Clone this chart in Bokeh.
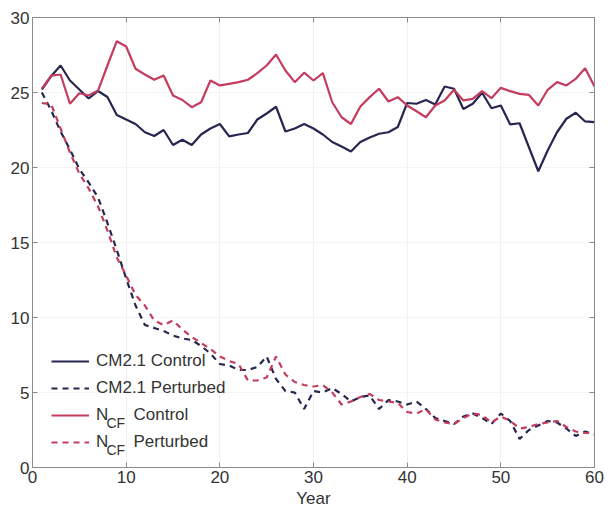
from bokeh.plotting import figure
from bokeh.models import ColumnDataSource, Legend, LegendItem, LinearAxis, Range1d, FixedTicker, Label
from bokeh.embed import file_html
from bokeh.resources import INLINE

years = list(range(1, 61))

cm21_control = [25.2, 26.1, 26.8, 25.8, 25.2, 24.6, 25.1, 24.7, 23.5, 23.2,
                22.9, 22.35, 22.1, 22.5, 21.5, 21.85, 21.5, 22.2, 22.6, 22.9,
                22.07, 22.2, 22.3, 23.2, 23.6, 24.05, 22.4, 22.6, 22.9, 22.6,
                22.2, 21.7, 21.4, 21.07, 21.7, 22.0, 22.25, 22.35, 22.7, 24.3,
                24.25, 24.5, 24.2, 25.4, 25.25, 23.9, 24.25, 24.98, 23.95, 24.13,
                22.87, 22.95, 21.35, 19.75, 21.13, 22.35, 23.25, 23.65, 23.07, 23.02]

ncf_control = [25.25, 26.13, 26.2, 24.25, 24.95, 24.8, 25.13, 26.8, 28.42, 28.07,
               26.58, 26.2, 25.85, 26.13, 24.8, 24.5, 24.02, 24.35, 25.8, 25.47,
               25.58, 25.69, 25.85, 26.29, 26.8, 27.53, 26.47, 25.69, 26.32, 25.8,
               26.29, 24.35, 23.35, 22.9, 24.07, 24.69, 25.25, 24.4, 24.69, 24.13,
               23.75, 23.35, 24.13, 24.47, 25.18, 24.47, 24.58, 25.09, 24.62, 25.31,
               25.09, 24.91, 24.84, 24.13, 25.18, 25.69, 25.47, 25.91, 26.62, 25.4]

cm21_perturbed = [25.0, 23.8, 22.4, 21.2, 19.9, 19.0, 18.0, 16.3, 14.5, 12.6,
                  10.8, 9.5, 9.3, 9.1, 8.8, 8.6, 8.5, 8.1, 7.6, 6.9,
                  6.8, 6.5, 6.5, 6.7, 7.4, 5.9, 5.1, 5.0, 3.9, 5.1,
                  5.0, 5.3, 4.9, 4.4, 4.7, 4.8, 3.9, 4.5, 4.4, 4.2,
                  4.4, 3.9, 3.3, 3.1, 2.9, 3.4, 3.6, 3.3, 2.9, 3.6,
                  3.1, 1.9, 2.5, 2.8, 3.1, 3.0, 2.6, 2.1, 2.4, 2.2]

ncf_perturbed = [24.3, 24.2, 22.6, 21.0, 19.6, 18.6, 17.4, 15.8, 14.0, 12.8,
                 11.5, 10.8, 9.8, 9.5, 9.8, 9.2, 8.7, 8.3, 7.9, 7.4,
                 7.1, 6.9, 5.8, 5.8, 6.0, 7.4, 6.2, 5.7, 5.5, 5.4,
                 5.5, 5.0, 4.2, 4.4, 4.7, 4.9, 4.5, 4.4, 4.3, 3.7,
                 3.6, 3.9, 3.2, 3.0, 2.9, 3.3, 3.6, 3.5, 3.0, 3.4,
                 3.1, 2.6, 2.7, 2.9, 3.0, 3.1, 2.7, 2.4, 2.3, 2.3]

x_ticks = [0, 10, 20, 30, 40, 50, 60]
y_ticks = [0, 5, 10, 15, 20, 25, 30]

NAVY = "#262650"
RED = "#c43c5e"
FONT = "Liberation Sans"

src = ColumnDataSource(dict(year=years, cc=cm21_control, nc=ncf_control,
                            cp=cm21_perturbed, np_=ncf_perturbed))

p = figure(width=614, height=512, output_backend="svg", toolbar_location=None,
           x_range=Range1d(0, 60), y_range=Range1d(0, 30),
           min_border_left=32, min_border_right=20, min_border_top=17, min_border_bottom=45)
p.background_fill_color = "white"
p.border_fill_color = "white"
p.outline_line_color = "#8a8a8a"
p.outline_line_width = 1

r_cc = p.line("year", "cc", source=src, line_color=NAVY, line_width=2.2)
r_cp = p.line("year", "cp", source=src, line_color=NAVY, line_width=2.2, line_dash="6 5")
r_nc = p.line("year", "nc", source=src, line_color=RED, line_width=2.2)
r_np = p.line("year", "np_", source=src, line_color=RED, line_width=2.2, line_dash="6 5")

for ax in (p.xaxis[0], p.yaxis[0]):
    ax.major_tick_in = 5
    ax.major_tick_out = 0
    ax.minor_tick_in = 0
    ax.minor_tick_out = 0
    ax.axis_line_color = "#8a8a8a"
    ax.major_tick_line_color = "#8a8a8a"
    ax.major_label_text_font = FONT
    ax.major_label_text_font_size = "17px"
    ax.major_label_text_color = "#333333"
    ax.major_label_standoff = 3

p.xaxis[0].ticker = FixedTicker(ticks=x_ticks)
p.yaxis[0].ticker = FixedTicker(ticks=y_ticks)
p.xaxis[0].axis_label = "Year"
p.xaxis[0].axis_label_text_font = FONT
p.xaxis[0].axis_label_text_font_size = "17px"
p.xaxis[0].axis_label_text_font_style = "normal"
p.xaxis[0].axis_label_text_color = "#333333"
p.xaxis[0].axis_label_standoff = 3

top = LinearAxis(ticker=FixedTicker(ticks=x_ticks), major_label_text_font_size="0px",
                 major_tick_in=5, major_tick_out=0, minor_tick_in=0, minor_tick_out=0,
                 axis_line_color="#8a8a8a", major_tick_line_color="#8a8a8a", major_label_standoff=0)
right = LinearAxis(ticker=FixedTicker(ticks=y_ticks), major_label_text_font_size="0px",
                   major_tick_in=5, major_tick_out=0, minor_tick_in=0, minor_tick_out=0,
                   axis_line_color="#8a8a8a", major_tick_line_color="#8a8a8a", major_label_standoff=0)
top.major_label_overrides = {t: "" for t in x_ticks}
right.major_label_overrides = {t: "" for t in y_ticks}
p.add_layout(top, "above")
p.add_layout(right, "right")
p.min_border_top = 17
p.min_border_right = 20

p.xgrid.grid_line_color = "#f1f1f1"
p.ygrid.grid_line_color = "#f4f4f4"
p.xgrid.ticker = FixedTicker(ticks=x_ticks)
p.ygrid.ticker = FixedTicker(ticks=y_ticks)

legend = Legend(items=[
    LegendItem(label="CM2.1 Control", renderers=[r_cc]),
    LegendItem(label="CM2.1 Perturbed", renderers=[r_cp]),
    LegendItem(label="N", renderers=[r_nc]),
    LegendItem(label="N", renderers=[r_np]),
], location=(19, 15), padding=0, margin=0, spacing=7, glyph_width=38, glyph_height=20,
    label_height=20, label_standoff=7, border_line_color=None, background_fill_alpha=0,
    label_text_font=FONT, label_text_font_size="17px", label_text_color="#333333")
p.add_layout(legend)

# subscripts and remaining label text for the N_CF rows (screen y from frame bottom)
row_centers = [53, 26]
for yc, word in zip(row_centers, ["Control", "Perturbed"]):
    p.add_layout(Label(x=74, y=yc - 8, x_units="screen", y_units="screen", text="CF",
                       text_font=FONT, text_font_size="14px", text_color="#333333",
                       text_baseline="alphabetic"))
    p.add_layout(Label(x=101, y=yc, x_units="screen", y_units="screen", text=word,
                       text_font=FONT, text_font_size="17px", text_color="#333333",
                       text_baseline="middle"))

open("out.html", "w").write(file_html(p, INLINE))
